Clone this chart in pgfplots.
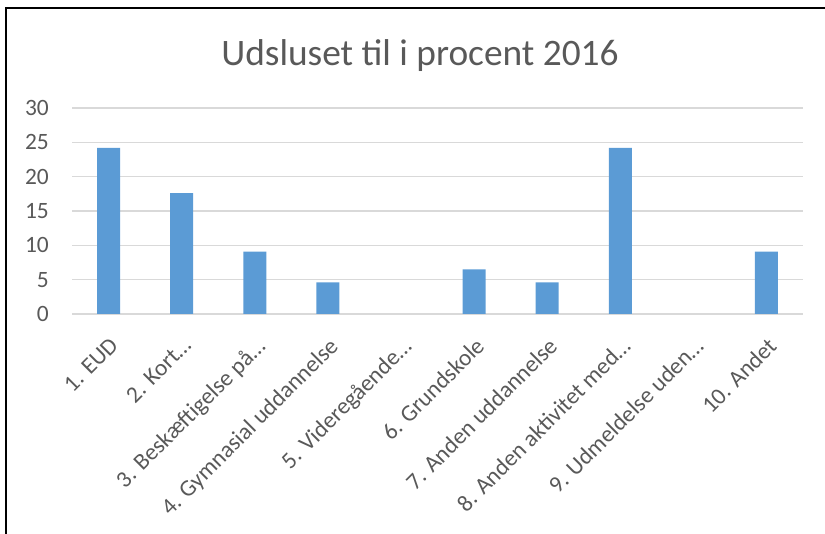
\documentclass[border=0pt]{standalone}
\usepackage{fontspec}
\setmainfont{Carlito}
\usepackage{pgfplots}
\pgfplotsset{compat=1.18}
\definecolor{barblue}{HTML}{5B9BD5}
\definecolor{txtgray}{HTML}{595959}
\definecolor{gridgray}{HTML}{D9D9D9}
\begin{document}
\begin{tikzpicture}
\useasboundingbox (0bp,0bp) rectangle (825bp,534bp);
\draw[line width=1.5bp] (6bp,0bp) -- (6bp,526bp) -- (826bp,526bp);
\node[anchor=base, text=txtgray, font=\fontsize{37.5}{44}\selectfont, inner sep=0pt] at (420bp,468bp) {Udsluset til i procent 2016};
\begin{axis}[
  at={(72bp,220bp)}, anchor=south west,
  scale only axis, width=731bp, height=206bp,
  ybar, bar width=23bp,
  xmin=-0.5, xmax=9.5, ymin=0, ymax=30,
  ytick={0,5,...,30},
  xtick={0,...,9},
  xticklabels={{1. EUD},{2. Kort…},{3. Beskæftigelse på…},{4. Gymnasial uddannelse},{5. Videregående…},{6. Grundskole},{7. Anden uddannelse},{8. Anden aktivitet med…},{9. Udmeldelse uden…},{10. Andet}},
  ymajorgrids, grid style={gridgray, line width=1.5bp},
  axis line style={draw=none},
  major tick length=0pt,
  tick label style={text=txtgray, font=\fontsize{23.5}{28}\selectfont},
  /pgf/number format/assume math mode=true,
  yticklabel style={anchor=east, inner sep=0pt},
  yticklabel shift=23bp,
  xticklabel style={rotate=45, anchor=north east, inner sep=0pt},
  xticklabel shift=22bp,
  clip=false,
]
% categories 5 and 9 have the value 0 and draw no bar
\addplot[fill=barblue, draw=none] coordinates {(0,24.2) (1,17.6) (2,9.1) (3,4.6) (5,6.5) (6,4.6) (7,24.2) (9,9.1)};
\end{axis}
\end{tikzpicture}
\end{document}
